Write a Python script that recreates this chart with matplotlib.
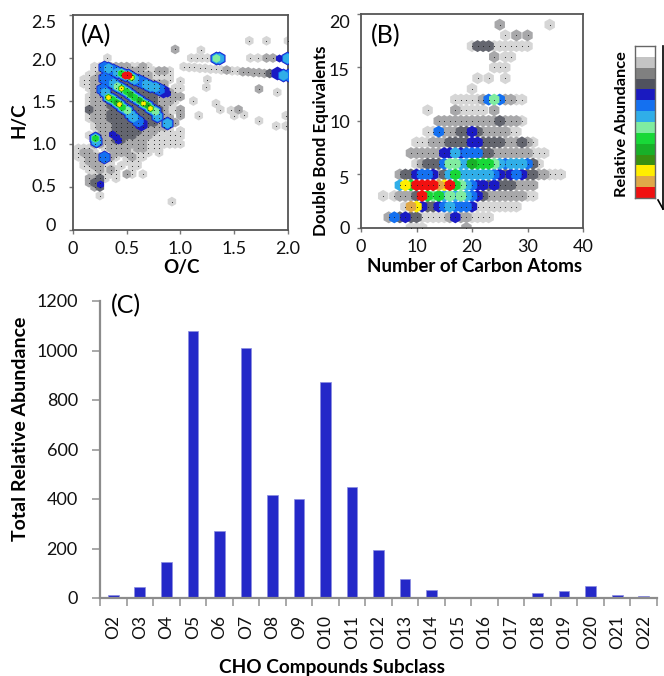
#!/usr/bin/env python3
# van Krevelen plot, DBE vs carbon number and O-class distribution

import matplotlib
matplotlib.use('Agg')
import matplotlib.pyplot as plt
from matplotlib.transforms import ScaledTranslation

plt.rcParams['font.family'] = ['Lato', 'DejaVu Sans']

W, H = 664, 676

# abundance levels, least to most: 0-2 grey, 3-5 blue, 6-9 green, a yellow, b tan, c red
level_colors = ['#d6d6d6', '#a8a8aa', '#64666f', '#1a1ac4', '#1470f0', '#30aee8', '#80eca0',
                '#18d838', '#18b028', '#389010', '#ffee00', '#e0a848', '#f01010']
bar_colors = ['#ffffff', '#c4c4c4', '#808080', '#50525e', '#1a1ac0', '#1470f0', '#30aee8',
              '#80eca0', '#18d838', '#18b028', '#389010', '#ffee00', '#e0a848', '#f01010']
level_keys = '0123456789abc'

# panel A background rows: H/C, first O/C, levels at 0.05 O/C steps (space = nothing there)
hc_rows = [
    (1.90, 0.20, '00011110010'),
    (1.85, 0.20, '001111111000110'),
    (1.80, 0.15, '0011111111110000'),
    (1.75, 0.10, '001111111111100 0'),
    (1.70, 0.10, '0011112222111111'),
    (1.65, 0.15, '011122222221110 0'),
    (1.60, 0.20, '1112222222221 10'),
    (1.55, 0.15, '01112222222221 11'),
    (1.50, 0.15, '01112222222221110'),
    (1.45, 0.15, '0111222222222110'),
    (1.40, 0.15, '211112222222221 01'),
    (1.35, 0.15, '0111222222222110 1'),
    (1.30, 0.15, '0111222222221111'),
    (1.25, 0.20, '01112222222211 1'),
    (1.20, 0.20, '011122222111110'),
    (1.15, 0.25, '01122222111000 0'),
    (1.10, 0.15, '00111222211100 00'),
    (1.05, 0.20, '1111221111000000'),
    (1.00, 0.20, '1101111111000000'),
    (0.95, 0.05, '000  01111 11000'),
    (0.90, 0.05, '0110   1110000 0'),
    (0.85, 0.05, '00111210 0100'),
    (0.80, 0.10, '011000  000'),
    (0.75, 0.10, '001100 0 00'),
    (0.70, 0.15, '001 10  0'),
    (0.65, 0.20, '00000 10 0'),
    (0.60, 0.15, '1120 0'),
    (0.55, 0.15, '122'),
    (0.50, 0.20, '12'),
    (0.40, 0.25, '0'),
]
# panel A isolated species, mostly on the right hand side
oc_extra = [0.32, 0.95, 1.19, 1.64, 1.80, 2.00, 1.10, 1.15, 1.20, 1.25, 1.65, 1.72, 1.80, 1.86,
            1.03, 1.08, 1.13, 1.18, 1.23, 1.28, 1.33, 1.38, 1.43, 1.48, 1.53, 1.58,
            1.63, 1.68, 1.73, 1.78, 1.83, 1.25, 1.24, 1.73, 1.90, 1.12, 1.33, 1.37,
            1.17, 1.47, 1.54, 1.50, 1.59, 1.73, 1.89, 1.98, 1.98, 0.92, 1.00, 1.00,
            1.00, 1.00, 1.00, 1.00, 1.00, 1.00]
hc_extra = [2.00, 2.10, 2.09, 2.20, 2.20, 2.20, 2.00, 2.00, 2.00, 2.00, 2.00, 2.00, 2.00, 2.00,
            1.90, 1.89, 1.89, 1.88, 1.88, 1.87, 1.87, 1.86, 1.86, 1.85, 1.85, 1.84,
            1.84, 1.83, 1.83, 1.82, 1.82, 1.75, 1.66, 1.64, 1.60, 1.50, 1.47, 1.40,
            1.33, 1.39, 1.40, 1.33, 1.34, 1.27, 1.21, 1.21, 1.33, 0.33, 1.73, 1.65,
            1.55, 1.40, 1.33, 1.15, 1.09, 1.00]
lv_extra = [0, 1, 0, 0, 0, 0, 0, 0, 0, 0, 0, 0, 1, 1,
            0, 0, 0, 0, 0, 0, 0, 0, 1, 0, 0, 1,
            1, 1, 1, 1, 2, 0, 0, 1, 0, 0, 0, 0,
            0, 0, 1, 0, 0, 0, 0, 0, 0, 0, 0, 0,
            1, 0, 1, 0, 0, 0]

# panel A peaks, along the three diagonal bands and a few isolated ones
oc_peak = [.29, .33, .37, .41, .45, .48, .51, .54, .57, .60, .64, .68, .72, .76, .80, .84,
           .29, .33, .37, .41, .45, .49, .53, .57, .61, .65, .69, .72, .76,
           .27, .30, .33, .36, .40, .43, .46, .50, .53, .56, .60, .63,
           .78, .875, .20, .21, .29, 1.33, 1.36, 1.99, 1.90, 1.95, 2.00]
hc_peak = [1.89, 1.88, 1.86, 1.84, 1.82, 1.80, 1.80, 1.78, 1.76, 1.74, 1.72, 1.70, 1.68, 1.66, 1.64, 1.62,
           1.77, 1.74, 1.71, 1.68, 1.65, 1.62, 1.58, 1.55, 1.51, 1.48, 1.45, 1.42, 1.38,
           1.64, 1.60, 1.55, 1.52, 1.49, 1.46, 1.43, 1.39, 1.35, 1.31, 1.27, 1.23,
           1.33, 1.25, 1.07, 1.04, 0.85, 2.00, 2.00, 2.00, 1.82, 1.80, 1.80]
lv_peak = [4, 5, 4, 5, 7, 12, 12, 10, 5, 4, 4, 5, 5, 5, 4, 3,
           4, 4, 5, 6, 10, 7, 8, 7, 8, 10, 8, 10, 6,
           4, 5, 10, 7, 8, 10, 7, 6, 5, 5, 4, 3,
           5, 5, 7, 5, 4, 6, 5, 5, 3, 5, 4]
# panel A small dark blue spots
oc_spot = [.25, .36, .40, .42, .875, 1.38, 1.92]
hc_spot = [.53, 1.12, 1.08, 1.05, 1.59, 2.00, 2.00]

# panel B rows: DBE, first carbon number, levels at each carbon (space = nothing there)
dbe_rows = [
    (0, 9, '000       1'),
    (1, 5, '142322' + '00000' + '1311' + '0000'),
    (2, 8, '0ba3223454443' + '00000000'),
    (3, 4, '0 0111' + '2c' + '76756565' + '432' + '111111100'),
    (4, 7, '5a7' + 'cccc' + 'bac' + '7654' + '3323' + '2221111'),
    (5, 7, '12234431257' + '555555' + '43234322' + '11000'),
    (6, 10, '01222' + '46655' + '8777' + '654555' + '420'),
    (7, 9, '111111' + '3353444' + '22' + '1111111' + '000'),
    (8, 10, '000111' + '2222' + '33' + '2222' + '111' + '210'),
    (9, 12, '004' + '11122' + '32' + '1111100'),
    (10, 14, '11111111111' + '2' + '1110'),
    (11, 12, '0    100000 1'),
    (12, 17, '00000' + '1464' + '1100'),
    (13, 20, '0'),
    (14, 21, '0 0  0'),
    (15, 24, '000'),
    (16, 24, '1 00'),
    (17, 20, '02220000000'),
    (18, 26, '0 1 1'),
    (19, 25, '1        0'),
]

# panel C
subclasses = ['O2', 'O3', 'O4', 'O5', 'O6', 'O7', 'O8', 'O9', 'O10', 'O11', 'O12',
              'O13', 'O14', 'O15', 'O16', 'O17', 'O18', 'O19', 'O20', 'O21', 'O22']
total_abundance = [13, 43, 147, 1078, 272, 1012, 418, 398, 873, 450, 193,
                   78, 33, 0, 0, 0, 19, 30, 47, 14, 10]

# marker area by level for the peaks, so they nest like contours
peak_sizes = {3: 100, 4: 76, 5: 54, 6: 38, 7: 30, 8: 20, 9: 20, 10: 14, 11: 14, 12: 36}


def make_axes(fig, left, top, right, bottom):
    return fig.add_axes([left/W, 1-bottom/H, (right-left)/W, (bottom-top)/H])


def hex_scatter(ax, xs, ys, levels, size):
    # low abundance first so the peaks sit on top
    order = sorted(range(len(xs)), key=lambda i: levels[i])
    ax.scatter([xs[i] for i in order], [ys[i] for i in order], s=size, marker='h',
               c=[level_colors[levels[i]] for i in order], linewidths=0)
    ax.scatter(xs, ys, s=0.6, c='#222222', linewidths=0, zorder=5)


def contour_peaks(ax, xs, ys, levels):
    for k in peak_sizes:
        if k >= 11:
            px = [x for x, l in zip(xs, levels) if l == k]
            py = [y for y, l in zip(ys, levels) if l == k]
        else:
            px = [x for x, l in zip(xs, levels) if l >= k]
            py = [y for y, l in zip(ys, levels) if l >= k]
        ax.scatter(px, py, s=peak_sizes[k], marker='h', c=level_colors[k], linewidths=0, zorder=3)


def expand_rows(rows, step):
    xs, ys, levels = [], [], []
    for y, start, codes in rows:
        for i, code in enumerate(codes):
            if code == ' ':
                continue
            xs.append(start + i*step)
            ys.append(y)
            levels.append(level_keys.index(code))
    return xs, ys, levels


def style_frame(ax):
    for side in ax.spines.values():
        side.set_color('#555555')
        side.set_linewidth(1.3)
    ax.tick_params(length=3, width=1, color='#777777', labelsize=13, labelcolor='#111111', pad=5)


def shift_ylabels(ax, shifts):
    # the tick labels do not sit quite level with their ticks
    for lab, dy in zip(ax.get_yticklabels(), shifts):
        lab.set_transform(lab.get_transform() + ScaledTranslation(0, -dy/100, fig.dpi_scale_trans))


fig = plt.figure(figsize=(W/100, H/100), dpi=100)

# (A)
ax_a = make_axes(fig, 73, 15, 288, 230)
xs, ys, lv = expand_rows(hc_rows, 0.05)
hex_scatter(ax_a, xs + oc_extra, ys + hc_extra, lv + lv_extra, 50)
ax_a.scatter(oc_spot, hc_spot, s=34, marker='h', c=level_colors[3], linewidths=0, zorder=3)
contour_peaks(ax_a, oc_peak, hc_peak, lv_peak)
ax_a.set_xlim(0, 2)
ax_a.set_ylim(0, 2.5)
ax_a.set_xticks([0, 0.5, 1.0, 1.5, 2.0], ['0', '0.5', '1.0', '1.5', '2.0'])
ax_a.set_yticks([0, 0.5, 1.0, 1.5, 2.0, 2.5], ['0', '0.5', '1.0', '1.5', '2.0', '2.5'])
style_frame(ax_a)
ax_a.tick_params(axis='y', pad=9)
shift_ylabels(ax_a, [-6, -2, -1, 1, 2, 6])

# (B)
ax_b = make_axes(fig, 361, 14, 583, 228)
xs, ys, lv = expand_rows(dbe_rows, 1)
hex_scatter(ax_b, xs, ys, lv, 75)
ax_b.set_xlim(0, 40)
ax_b.set_ylim(0, 20)
ax_b.set_xticks([0, 10, 20, 30, 40])
ax_b.set_yticks([0, 5, 10, 15, 20])
style_frame(ax_b)
shift_ylabels(ax_b, [0, 3, 1, 2, 8])

# (C)
ax_c = make_axes(fig, 100, 301, 657, 598)
ax_c.bar(range(len(subclasses)), total_abundance, width=0.4, color='#2428c8',
         edgecolor='#8a8ce0', linewidth=0.5)
ax_c.set_xlim(-0.5, len(subclasses)-0.5)
ax_c.set_ylim(0, 1200)
ax_c.set_yticks(range(0, 1201, 200))
ax_c.set_xticks(range(len(subclasses)), subclasses, rotation=90)
ax_c.set_xticks([i-0.5 for i in range(len(subclasses)+1)], minor=True)
ax_c.tick_params(axis='x', which='major', length=0, labelsize=12.5, pad=12, labelcolor='#111111')
ax_c.tick_params(axis='x', which='minor', length=6, width=1.2, color='#999999')
ax_c.tick_params(axis='y', length=6, width=1.2, color='#999999', labelsize=13, labelcolor='#111111', pad=10)
ax_c.spines['top'].set_visible(False)
ax_c.spines['right'].set_visible(False)
for name in ['left', 'bottom']:
    ax_c.spines[name].set_color('#8c8c8c')
    ax_c.spines[name].set_linewidth(1.6)


def label(x, y, s, **kw):
    fig.text(x/W, 1-y/H, s, ha='center', va='center', **kw)


label(96, 36, '(A)', fontsize=18)
label(386, 36, '(B)', fontsize=18)
label(126, 306, '(C)', fontsize=18)
label(181, 268, 'O/C', fontsize=13.5, fontweight='bold')
label(19, 120, 'H/C', fontsize=13.5, fontweight='bold', rotation=90)
label(475, 266, 'Number of Carbon Atoms', fontsize=13.5, fontweight='bold')
label(321, 141, 'Double Bond Equivalents', fontsize=12.2, fontweight='bold', rotation=90)
label(21, 429, 'Total Relative Abundance', fontsize=14, fontweight='bold', rotation=90)
label(332, 668, 'CHO Compounds Subclass', fontsize=13.7, fontweight='bold')
label(622, 124, 'Relative Abundance', fontsize=11.8, fontweight='bold', rotation=90)

# abundance scale
ax_key = make_axes(fig, 635, 46, 655, 198)
ax_key.barh(range(len(bar_colors)), [1]*len(bar_colors), height=1, color=bar_colors)
ax_key.set_xlim(0, 1)
ax_key.set_ylim(len(bar_colors)-0.5, -0.5)
ax_key.set_xticks([])
ax_key.set_yticks([])
for side in ax_key.spines.values():
    side.set_color('#666666')
    side.set_linewidth(1)

# arrow beside the scale, cut by the edge of the figure
fig.add_artist(plt.Line2D([663/W, 663/W], [1-46/H, 1-209/H], color='black', lw=1.2))
fig.add_artist(plt.Line2D([658/W, 663/W], [1-200/H, 1-209/H], color='black', lw=1.2))

fig.savefig('out.png', dpi=100)
